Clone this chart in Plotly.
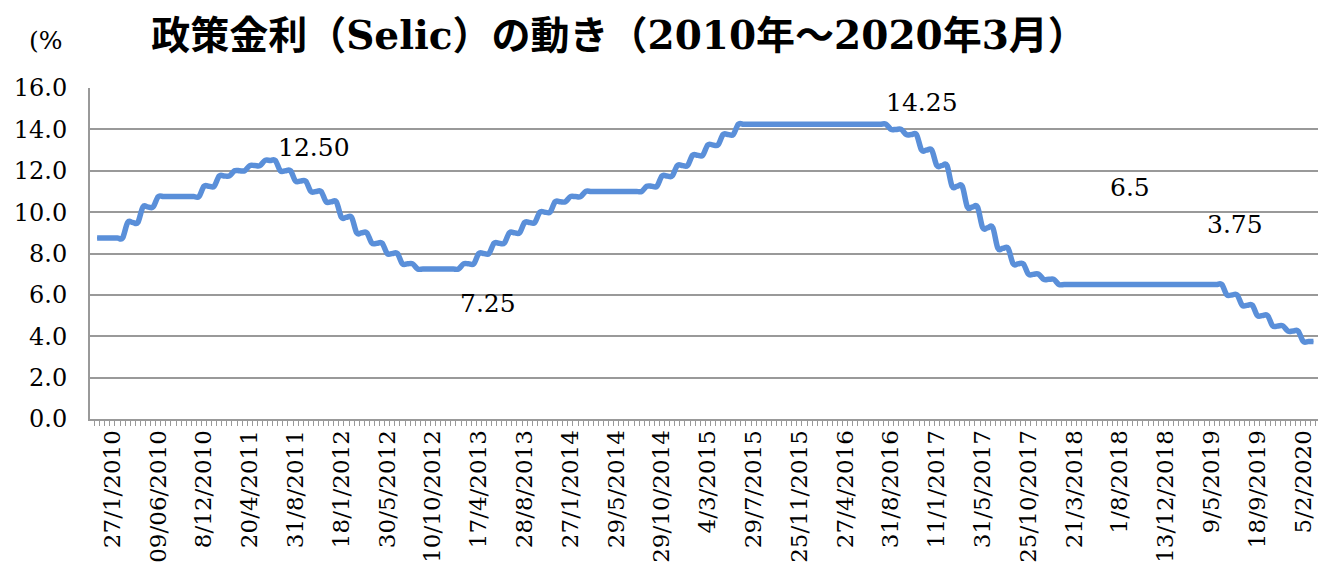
import numpy as np
import plotly.graph_objects as go

# Copom meetings (as rows in the source table) and Selic target rate (%)
meeting_dates = [
    "27/1/2010", "17/3/2010", "28/4/2010", "9/6/2010", "21/7/2010", "20/10/2010", "8/12/2010",
    "19/1/2011", "2/3/2011", "20/4/2011", "8/6/2011", "20/7/2011", "31/8/2011", "19/10/2011", "30/11/2011",
    "18/1/2012", "7/3/2012", "18/4/2012", "30/5/2012", "11/7/2012", "29/8/2012", "10/10/2012", "28/11/2012",
    "16/1/2013", "17/4/2013", "29/5/2013", "10/7/2013", "28/8/2013", "9/10/2013", "27/11/2013",
    "15/1/2014", "26/2/2014", "2/4/2014", "28/5/2014", "16/7/2014", "3/9/2014", "29/10/2014", "3/12/2014",
    "21/1/2015", "4/3/2015", "29/4/2015", "3/6/2015", "29/7/2015", "2/9/2015", "21/10/2015", "25/11/2015",
    "20/1/2016", "2/3/2016", "27/4/2016", "8/6/2016", "20/7/2016", "31/8/2016", "19/10/2016", "30/11/2016",
    "11/1/2017", "22/2/2017", "12/4/2017", "31/5/2017", "26/7/2017", "6/9/2017", "25/10/2017", "6/12/2017",
    "7/2/2018", "21/3/2018", "16/5/2018", "20/6/2018", "1/8/2018", "19/9/2018", "31/10/2018", "12/12/2018",
    "6/2/2019", "20/3/2019", "8/5/2019", "19/6/2019", "31/7/2019", "18/9/2019", "30/10/2019", "11/12/2019",
    "5/2/2020", "18/3/2020",
]
selic_rates = [
    8.75, 8.75, 9.50, 10.25, 10.75, 10.75, 10.75,
    11.25, 11.75, 12.00, 12.25, 12.50, 12.00, 11.50, 11.00,
    10.50, 9.75, 9.00, 8.50, 8.00, 7.50, 7.25, 7.25,
    7.25, 7.50, 8.00, 8.50, 9.00, 9.50, 10.00,
    10.50, 10.75, 11.00, 11.00, 11.00, 11.00, 11.25, 11.75,
    12.25, 12.75, 13.25, 13.75, 14.25, 14.25, 14.25, 14.25,
    14.25, 14.25, 14.25, 14.25, 14.25, 14.25, 14.00, 13.75,
    13.00, 12.25, 11.25, 10.25, 9.25, 8.25, 7.50, 7.00,
    6.75, 6.50, 6.50, 6.50, 6.50, 6.50, 6.50, 6.50,
    6.50, 6.50, 6.50, 6.50, 6.00, 5.50, 5.00, 4.50,
    4.25, 3.75,
]
rows_per_meeting = 3

tick_labels = [
    "27/1/2010", "09/06/2010", "8/12/2010", "20/4/2011", "31/8/2011", "18/1/2012",
    "30/5/2012", "10/10/2012", "17/4/2013", "28/8/2013", "27/1/2014", "29/5/2014",
    "29/10/2014", "4/3/2015", "29/7/2015", "25/11/2015", "27/4/2016", "31/8/2016",
    "11/1/2017", "31/5/2017", "25/10/2017", "21/3/2018", "1/8/2018", "13/12/2018",
    "9/5/2019", "18/9/2019", "5/2/2020",
]
label_every = 9
first_row_offset = -3

y_vals = np.repeat(selic_rates, rows_per_meeting).astype(float)
x_vals = (np.arange(len(y_vals)) + first_row_offset).astype(float)
tick_pos = np.arange(len(tick_labels)) * label_every

LINE_COLOR = "#5A8FD9"
SERIF = "DejaVu Serif, Noto Sans CJK JP"


def smooth_path(xs, ys, t=1.0 / 6.0):
    """Excel-style smoothed line (Catmull-Rom as cubic Bezier) in data coordinates."""
    n = len(xs)
    parts = [f"M {xs[0]},{ys[0]}"]
    for i in range(n - 1):
        i0 = max(i - 1, 0)
        i3 = min(i + 2, n - 1)
        c1x = xs[i] + (xs[i + 1] - xs[i0]) * t
        c1y = ys[i] + (ys[i + 1] - ys[i0]) * t
        c2x = xs[i + 1] - (xs[i3] - xs[i]) * t
        c2y = ys[i + 1] - (ys[i3] - ys[i]) * t
        parts.append(f"C {c1x:.4f},{c1y:.4f} {c2x:.4f},{c2y:.4f} {xs[i + 1]},{ys[i + 1]}")
    return " ".join(parts)


fig = go.Figure()
# data trace (thin, hidden under the smoothed stroke)
fig.add_trace(go.Scatter(
    x=x_vals, y=y_vals, mode="lines",
    line=dict(color=LINE_COLOR, width=2, shape="spline", smoothing=1.0),
    hoverinfo="skip", showlegend=False,
))
# Excel-like smoothed stroke drawn from the same data through the axes
fig.add_shape(type="path", xref="x", yref="y", path=smooth_path(x_vals, y_vals),
              line=dict(color=LINE_COLOR, width=5.5), layer="above")

annotations_spec = [
    ("12.50", 39.6, 13.14),
    ("14.25", 159.1, 15.31),
    ("7.25", 73.8, 5.56),
    ("6.5", 200.0, 11.2),
    ("3.75", 220.6, 9.42),
]
for txt, ax_, ay_ in annotations_spec:
    fig.add_annotation(x=ax_, y=ay_, xref="x", yref="y", text=txt, showarrow=False,
                       font=dict(family=SERIF, size=25, color="#000"))

fig.add_annotation(x=(27 - 90) / 1228, y=(419 - 40) / 331, xref="paper", yref="paper", text="(%",
                   showarrow=False, xanchor="left", yanchor="middle",
                   font=dict(family=SERIF, size=25, color="#000"))

fig.update_layout(
    width=1326, height=571,
    paper_bgcolor="white", plot_bgcolor="white",
    margin=dict(l=90, r=8, t=88, b=152),
    title=dict(text="<b>政策金利（Selic）の動き（2010年～2020年3月）</b>",
               x=619 / 1326, xanchor="center", xref="container", y=1 - 35 / 571, yanchor="middle",
               yref="container",
               font=dict(family=SERIF, size=39, color="#000")),
    font=dict(family=SERIF, color="#000"),
)

fig.update_xaxes(
    range=[-4.4, 236.9], showgrid=False, zeroline=False,
    showline=True, linecolor="#999999", linewidth=2,
    tickmode="array", tickvals=tick_pos, ticktext=tick_labels,
    tickangle=-90, ticks="", tickfont=dict(family=SERIF, size=23, color="#000"),
    minor=dict(tick0=0.5, dtick=1, ticks="outside", ticklen=5, tickcolor="#999999", tickwidth=1, showgrid=False),
    automargin=False,
)
fig.update_yaxes(
    range=[0, 16], dtick=2, tickformat=".1f",
    showgrid=True, gridcolor="#999999", gridwidth=2,
    showline=True, linecolor="#999999", linewidth=2, zeroline=False,
    ticks="", tickfont=dict(family=SERIF, size=24, color="#000"),
    ticklabelstandoff=16,
    automargin=False,
)

fig.write_html("out.html", config={"displayModeBar": False},
               post_script="document.body.style.margin='0px';")
